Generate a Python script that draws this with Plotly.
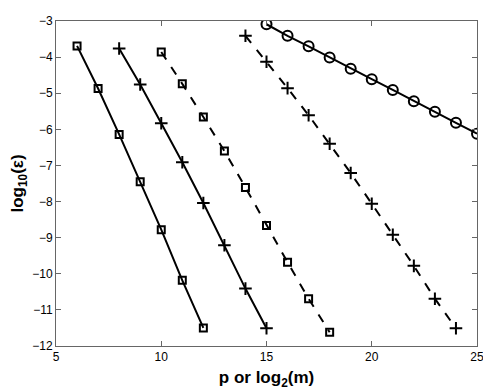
import plotly.graph_objects as go

# p or log2(m) values and log10(error) for each curve
x1 = [6, 7, 8, 9, 10, 11, 12]
y1 = [-3.69, -4.87, -6.14, -7.45, -8.78, -10.18, -11.50]

x2 = [8, 9, 10, 11, 12, 13, 14, 15]
y2 = [-3.76, -4.76, -5.83, -6.91, -8.04, -9.21, -10.41, -11.51]

x3 = [10, 11, 12, 13, 14, 15, 16, 17, 18]
y3 = [-3.86, -4.74, -5.66, -6.60, -7.61, -8.66, -9.68, -10.69, -11.62]

x4 = [14, 15, 16, 17, 18, 19, 20, 21, 22, 23, 24]
y4 = [-3.41, -4.13, -4.86, -5.61, -6.40, -7.21, -8.06, -8.92, -9.78, -10.69, -11.51]

x5 = [15, 16, 17, 18, 19, 20, 21, 22, 23, 24, 25]
y5 = [-3.09, -3.41, -3.70, -4.01, -4.32, -4.61, -4.91, -5.22, -5.51, -5.82, -6.12]

x_ticks = [5, 10, 15, 20, 25]
y_ticks = [-3, -4, -5, -6, -7, -8, -9, -10, -11, -12]

curves = [
    (x1, y1, "solid", "square-open", 7),
    (x2, y2, "solid", "cross-thin-open", 9),
    (x3, y3, "dash", "square-open", 7),
    (x4, y4, "dash", "cross-thin-open", 9),
    (x5, y5, "solid", "circle-open", 10),
]

fig = go.Figure()
for xs, ys, dash, sym, sz in curves:
    fig.add_trace(go.Scatter(
        x=xs, y=ys, mode="lines+markers",
        line=dict(color="black", width=2, dash=dash),
        marker=dict(symbol=sym, size=sz, color="black", line=dict(color="black", width=2)),
        showlegend=False,
    ))

font = "Liberation Sans, Arial"
axis_common = dict(
    showgrid=False, zeroline=False, showline=True, mirror="allticks",
    linecolor="#666666", linewidth=1, ticks="inside", ticklen=5,
    tickcolor="#666666", tickfont=dict(family=font, size=12, color="black"),
)

fig.update_xaxes(range=[5, 25], tickvals=x_ticks, **axis_common,
                 title=dict(text="<b>p or log<sub>2</sub>(m)</b>",
                            font=dict(family=font, size=17, color="black"),
                            standoff=8))
fig.update_yaxes(range=[-12, -3], tickvals=y_ticks, ticktext=[f"\u2212{abs(v)}" for v in y_ticks],
                 **axis_common,
                 title=dict(text="<b>log<sub>10</sub>(\u03b5)</b>",
                            font=dict(family=font, size=17, color="black"),
                            standoff=6))

# page body adds an 8px margin, so the figure is sized to fit inside the window
fig.update_layout(
    width=483, height=382,
    margin=dict(l=46, r=14, t=6, b=38),
    plot_bgcolor="white", paper_bgcolor="white",
)

fig.write_html("out.html")
